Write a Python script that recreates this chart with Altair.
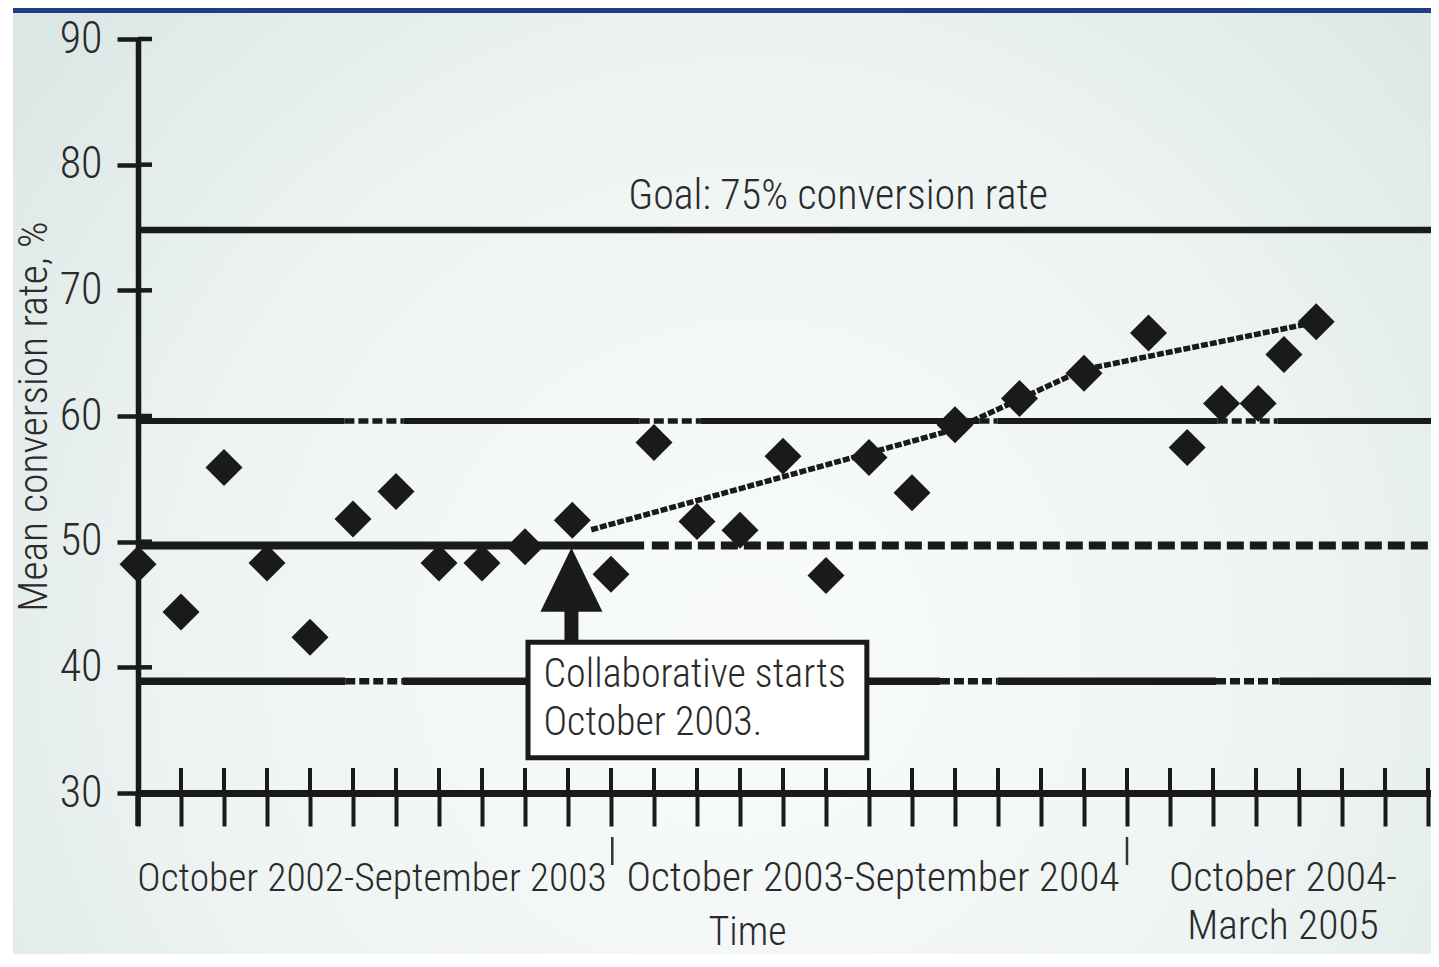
import altair as alt
import pandas as pd

# ---------------- data ----------------
MONTH_INDEX = [0, 1, 2, 3, 4, 5, 6, 7, 8, 9, 10.1, 11, 12, 13, 14, 15, 16, 17, 18, 19,
               20.5, 22, 23.5, 24.4, 25.2, 26.05, 26.65, 27.4]
CONVERSION = [48.2, 44.4, 55.9, 48.3, 42.4, 51.8, 54.0, 48.3, 48.3, 49.6, 51.7, 47.4,
              57.9, 51.6, 50.9, 56.8, 47.3, 56.7, 53.9, 59.3, 61.4, 63.4, 66.6, 57.5,
              61.0, 61.0, 64.9, 67.5]

TREND_X = [10.54, 18.97, 21.98, 27.3]
TREND_Y = [50.95, 58.91, 63.68, 67.4]

GOAL = 74.8
UPPER = 59.6
CENTER = 49.7
LOWER = 38.9

# x-ranges (month index) of solid / broken pieces of each reference line
UPPER_SOLID = [(0, 4.80), (6.18, 11.67), (13.09, 19.57), (19.99, 25.11), (26.5, 30.07)]
UPPER_DOTTED = [(4.80, 6.18), (11.67, 13.09), (19.57, 19.99), (25.11, 26.5)]
CENTER_SOLID = [(0, 11.77)]
CENTER_DASHED = [(11.95, 30.07)]
LOWER_SOLID = [(0, 4.82), (6.16, 18.65), (19.99, 25.07), (26.55, 30.07)]
LOWER_DOTTED = [(4.82, 6.16), (18.65, 19.99), (25.07, 26.55)]
GOAL_SOLID = [(0, 30.07)]

Y_TICKS = [30, 40, 50, 60, 70, 80, 90]
X_TICKS = list(range(31))

GROUP_LABELS = ["October 2002-September 2003", "October 2003-September 2004"]
LAST_GROUP = ["October 2004-", "March 2005"]
GROUP_BREAKS = [11.03, 23.0]

# ---------------- styling ----------------
INK = "#1a1a1a"
TXT = "#2a2a2a"
FONT = "Roboto Condensed, Liberation Sans Narrow, DejaVu Sans Condensed, sans-serif"
FW = 300
W, H = 1293, 754
PB = 161

XS = alt.Scale(domain=[0, 30.07], nice=False, zero=False)
YS = alt.Scale(domain=[30, 90], nice=False, zero=False)

XAXIS = alt.Axis(values=X_TICKS, labels=False, title="Time", grid=False,
                 domainWidth=7, domainColor=INK,
                 tickColor=INK, tickWidth=4, tickSize=33,
                 titleFont=FONT, titleFontSize=40, titleFontWeight=FW,
                 titleColor=TXT, titleX=609, titleY=151, titleAlign="center",
                 titleBaseline="alphabetic", zindex=1)
YAXIS = alt.Axis(values=Y_TICKS, title="Mean conversion rate, %", grid=False,
                 domainWidth=5.5, domainColor=INK, tickColor=INK, tickWidth=4.5,
                 tickSize=21, labelPadding=15, labelFontSize=44, labelFont=FONT,
                 labelFontWeight=FW,
                 labelColor=TXT, labelFlush=False, labelOverlap=False,
                 labelBaseline="middle",
                 titleFont=FONT, titleFontSize=41.5, titleFontWeight=FW,
                 titleColor=TXT, titleX=-92, titleY=377, titleAngle=270,
                 titleAlign="center", titleBaseline="alphabetic", zindex=1)


def X(field=None, datum=None):
    if datum is not None:
        return alt.X(datum=datum, type="quantitative", scale=XS, axis=XAXIS)
    return alt.X(field, type="quantitative", scale=XS, axis=XAXIS)


def Y(field=None, datum=None):
    if datum is not None:
        return alt.Y(datum=datum, type="quantitative", scale=YS, axis=YAXIS)
    return alt.Y(field, type="quantitative", scale=YS, axis=YAXIS)


def seg_df(level, pieces):
    return pd.DataFrame({"y": [level] * len(pieces),
                         "x0": [p[0] for p in pieces],
                         "x1": [p[1] for p in pieces]})


one = pd.DataFrame({"a": [0]})

grad = alt.Gradient(
    gradient="radial",
    stops=[alt.GradientStop(color="#f9fbfb", offset=0),
           alt.GradientStop(color="#eef4f3", offset=0.5),
           alt.GradientStop(color="#d4e2df", offset=1)],
    x1=0.52, y1=0.62, r1=0, x2=0.52, y2=0.62, r2=0.78)

background = alt.Chart(one).mark_rect(fill=grad).encode(
    x=alt.value(-125), x2=alt.value(W), y=alt.value(-26), y2=alt.value(H + PB))
topbar = alt.Chart(one).mark_rect(fill="#233a87").encode(
    x=alt.value(-125), x2=alt.value(W), y=alt.value(-32), y2=alt.value(-26))


def seg_layer(level, pieces, width, dash=None):
    kw = dict(color=INK, strokeWidth=width, strokeCap="butt")
    if dash:
        kw["strokeDash"] = dash
    return alt.Chart(seg_df(level, pieces)).mark_rule(**kw).encode(
        x=X("x0"), x2="x1", y=Y("y"))


lines = [
    seg_layer(GOAL, GOAL_SOLID, 6.5),
    seg_layer(UPPER, UPPER_SOLID, 6),
    seg_layer(UPPER, UPPER_DOTTED, 5.5, [10, 4]),
    seg_layer(CENTER, CENTER_SOLID, 8),
    seg_layer(CENTER, CENTER_DASHED, 8, [17, 6]),
    seg_layer(LOWER, LOWER_SOLID, 7.5),
    seg_layer(LOWER, LOWER_DOTTED, 6.5, [10, 4]),
]

# axis extras: tick parts on the inner side, and axis line below the x axis
ytick_in = alt.Chart(pd.DataFrame({"t": Y_TICKS})).mark_rule(
    color=INK, strokeWidth=4.5).encode(y=Y("t"), x=alt.value(0), x2=alt.value(14))
xtick_up = alt.Chart(pd.DataFrame({"t": X_TICKS})).mark_rule(
    color=INK, strokeWidth=4).encode(x=X("t"), y=alt.value(H - 25), y2=alt.value(H))
yaxis_ext = alt.Chart(one).mark_rule(color=INK, strokeWidth=5.5).encode(
    x=alt.value(0), y=alt.value(H), y2=alt.value(H + 33))

trend = alt.Chart(pd.DataFrame({"x": TREND_X, "y": TREND_Y})).mark_line(
    color=INK, strokeWidth=5.5, strokeDash=[7, 2]).encode(x=X("x"), y=Y("y"))

points = alt.Chart(pd.DataFrame({"m": MONTH_INDEX, "v": CONVERSION})).mark_point(
    shape="diamond", filled=True, size=1369, color=INK, opacity=1).encode(
    x=X("m"), y=Y("v"))

ARROW = "M0,-1L0.667,0.376L0.15,0.376L0.15,1L-0.15,1L-0.15,0.376L-0.667,0.376Z"
arrow = alt.Chart(one).mark_point(shape=ARROW, filled=True, size=8649, color=INK,
                                  opacity=1, strokeWidth=0).encode(
    x=X(datum=10.08), y=Y(datum=45.82))

box = alt.Chart(one).mark_rect(fill="white", stroke=INK, strokeWidth=5).encode(
    x=X(datum=9.07), x2=alt.X2(datum=16.95), y=Y(datum=42.0), y2=alt.Y2(datum=32.8))


def txt(s, size=43, align="left"):
    return alt.Chart(one).mark_text(text=s, font=FONT, fontSize=size, color=TXT,
                                    fontWeight=FW, align=align, baseline="alphabetic")


box_t1 = txt("Collaborative starts", 40).encode(x=X(datum=9.43), y=Y(datum=38.46))
box_t2 = txt("October 2003.", 40).encode(x=X(datum=9.43), y=Y(datum=34.64))
goal_t = txt("Goal: 75% conversion rate", 42).encode(x=X(datum=11.4), y=Y(datum=76.5))

g1 = txt(GROUP_LABELS[0], 39.5, "center").encode(x=alt.value(234), y=alt.value(852))
g2 = txt(GROUP_LABELS[1], 41.5, "center").encode(x=alt.value(735), y=alt.value(852))
g3 = txt(LAST_GROUP[0], 41.5, "center").encode(x=alt.value(1145), y=alt.value(852))
g4 = txt(LAST_GROUP[1], 41.5, "center").encode(x=alt.value(1145), y=alt.value(900))

seps = alt.Chart(pd.DataFrame({"b": GROUP_BREAKS})).mark_rule(
    color="#333333", strokeWidth=2.5).encode(
    x=X("b"), y=alt.value(798), y2=alt.value(826))

chart = alt.layer(
    background, topbar, *lines, ytick_in, xtick_up, yaxis_ext, trend, points,
    arrow, box, box_t1, box_t2, goal_t, g1, g2, g3, g4, seps
).properties(
    width=W, height=H,
    padding={"left": 130, "top": 31, "right": 0, "bottom": PB},
    autosize=alt.AutoSizeParams(type="none"),
    background="white",
).configure_view(stroke=None)

chart.save("out.html", embed_options={"renderer": "svg", "actions": False})
